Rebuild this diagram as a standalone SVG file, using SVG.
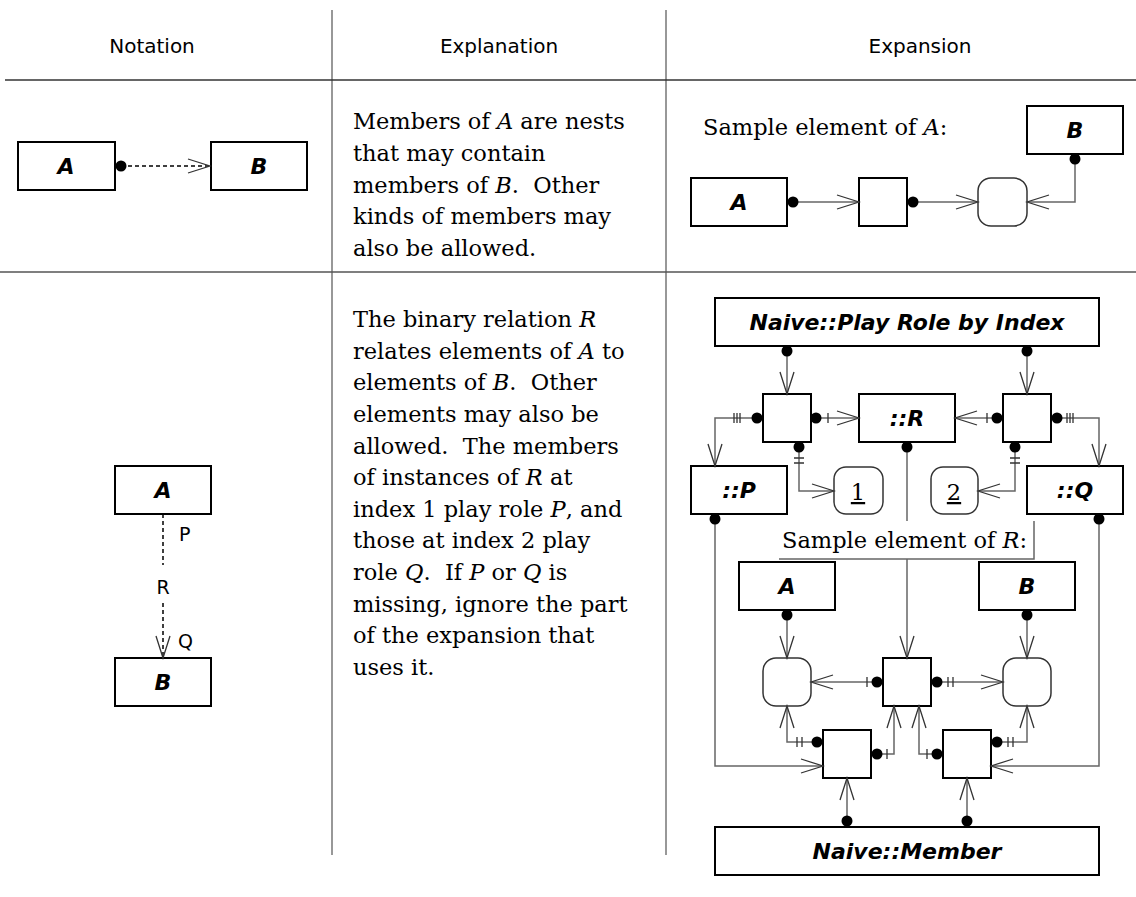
<svg xmlns="http://www.w3.org/2000/svg" width="1136" height="897" viewBox="0 0 1136 897">
<style>
.tbl{stroke:#777;stroke-width:1.5;fill:none}
.box{fill:#fff;stroke:#000;stroke-width:2}
.rbox{fill:#fff;stroke:#333;stroke-width:1.5}
.ln{stroke:#666;stroke-width:1.5;fill:none}
.dash{stroke:#000;stroke-width:1.5;fill:none;stroke-dasharray:4 3}
.bar{stroke:#333;stroke-width:1.3;fill:none}
.dot{fill:#000}
.lbl{font-family:"DejaVu Sans",sans-serif;font-weight:bold;font-style:italic;font-size:22px;text-anchor:middle;fill:#000}
.hdr{font-family:"DejaVu Sans",sans-serif;font-size:20px;text-anchor:middle;fill:#000}
.sans{font-family:"DejaVu Sans",sans-serif;font-size:19px;fill:#000}
.ser{font-family:"DejaVu Serif",serif;font-size:22.5px;fill:#000}
.it{font-style:italic}
</style>
<defs>
<marker id="v" markerUnits="userSpaceOnUse" viewBox="-24 -10 26 20" refX="0" refY="0" markerWidth="26" markerHeight="20" orient="auto">
<path d="M-22,-7 L0,0 L-22,7" fill="none" stroke="#333" stroke-width="1.3"/>
</marker>
</defs>
<rect width="1136" height="897" fill="#fff"/>
<g id="table">
<path class="tbl" d="M332,10 V855 M666,10 V855"/>
<path d="M5,80 H1136" stroke="#333" stroke-width="1.5"/>
<path d="M0,272 H1136" stroke="#555" stroke-width="1.5"/>
<text class="hdr" x="152" y="53">Notation</text>
<text class="hdr" x="499" y="53">Explanation</text>
<text class="hdr" x="920" y="53">Expansion</text>
</g>
<g id="row1-notation">
<g id="n1-A"><rect class="box" x="18" y="142" width="97" height="48"/><text class="lbl" x="66" y="174">A</text></g>
<g id="n1-B"><rect class="box" x="211" y="142" width="96" height="48"/><text class="lbl" x="259" y="174">B</text></g>
</g>
<g id="row1-explanation">
<text class="ser" xml:space="preserve"><tspan x="353" y="129">Members of <tspan class="it">A</tspan> are nests</tspan><tspan x="353" y="161">that may contain</tspan><tspan x="353" y="193">members of <tspan class="it">B</tspan>.  Other</tspan><tspan x="353" y="224">kinds of members may</tspan><tspan x="353" y="256">also be allowed.</tspan></text>
</g>
<g id="row1-expansion">
<text class="ser" x="703" y="135">Sample element of <tspan class="it">A</tspan>:</text>
<g id="e1-B"><rect class="box" x="1027" y="106" width="96" height="48"/><text class="lbl" x="1075" y="138">B</text></g>
<g id="e1-A"><rect class="box" x="691" y="178" width="96" height="48"/><text class="lbl" x="739" y="210">A</text></g>
<g id="e1-sq"><rect class="box" x="859" y="178" width="48" height="48"/></g>
<g id="e1-rb"><rect class="rbox" x="978" y="178" width="49" height="48" rx="13"/></g>
</g>
<g id="row2-notation">
<g id="n2-A"><rect class="box" x="115" y="466" width="96" height="48"/><text class="lbl" x="163" y="498">A</text></g>
<g id="n2-B"><rect class="box" x="115" y="658" width="96" height="48"/><text class="lbl" x="163" y="690">B</text></g>
<text class="sans" x="179" y="541">P</text>
<text class="sans" x="163" y="594" text-anchor="middle">R</text>
<text class="sans" x="178" y="648">Q</text>
</g>
<g id="row2-explanation">
<text class="ser" xml:space="preserve"><tspan x="353" y="327">The binary relation <tspan class="it">R</tspan></tspan><tspan x="353" y="359">relates elements of <tspan class="it">A</tspan> to</tspan><tspan x="353" y="390">elements of <tspan class="it">B</tspan>.  Other</tspan><tspan x="353" y="422">elements may also be</tspan><tspan x="353" y="454">allowed.  The members</tspan><tspan x="353" y="485">of instances of <tspan class="it">R</tspan> at</tspan><tspan x="353" y="517">index 1 play role <tspan class="it">P</tspan>, and</tspan><tspan x="353" y="548">those at index 2 play</tspan><tspan x="353" y="580">role <tspan class="it">Q</tspan>.  If <tspan class="it">P</tspan> or <tspan class="it">Q</tspan> is</tspan><tspan x="353" y="612">missing, ignore the part</tspan><tspan x="353" y="643">of the expansion that</tspan><tspan x="353" y="675">uses it.</tspan></text>
</g>
<g id="row2-expansion">
<g id="playrole"><rect class="box" x="715" y="298" width="384" height="48"/><text class="lbl" x="907" y="330">Naive::Play Role by Index</text></g>
<g id="sqL"><rect class="box" x="763" y="394" width="48" height="48"/></g>
<g id="R"><rect class="box" x="859" y="394" width="96" height="48"/><text class="lbl" x="907" y="426">::R</text></g>
<g id="sqR"><rect class="box" x="1003" y="394" width="48" height="48"/></g>
<g id="P"><rect class="box" x="691" y="466" width="96" height="48"/><text class="lbl" x="739" y="498">::P</text></g>
<g id="Q"><rect class="box" x="1027" y="466" width="96" height="48"/><text class="lbl" x="1075" y="498">::Q</text></g>
<g id="one"><rect class="rbox" x="834" y="467" width="49" height="47" rx="12"/><text class="ser" x="858" y="500" text-anchor="middle" text-decoration="underline">1</text></g>
<g id="two"><rect class="rbox" x="931" y="467" width="47" height="47" rx="12"/><text class="ser" x="954" y="500" text-anchor="middle" text-decoration="underline">2</text></g>
<g id="sample"><text class="ser" x="782" y="548">Sample element of <tspan class="it">R</tspan>:</text></g>
<g id="A2"><rect class="box" x="739" y="562" width="96" height="48"/><text class="lbl" x="787" y="594">A</text></g>
<g id="B2"><rect class="box" x="979" y="562" width="96" height="48"/><text class="lbl" x="1027" y="594">B</text></g>
<g id="rbL"><rect class="rbox" x="763" y="658" width="48" height="48" rx="13"/></g>
<g id="sqC"><rect class="box" x="883" y="658" width="48" height="48"/></g>
<g id="rbR"><rect class="rbox" x="1003" y="658" width="48" height="48" rx="13"/></g>
<g id="sqBL"><rect class="box" x="823" y="730" width="48" height="48"/></g>
<g id="sqBR"><rect class="box" x="943" y="730" width="48" height="48"/></g>
<g id="member"><rect class="box" x="715" y="827" width="384" height="48"/><text class="lbl" x="907" y="859">Naive::Member</text></g>
</g>
<g id="connectors">
<path class="dash" d="M121,166 H210" marker-end="url(#v)"/>
<path class="dash" d="M163,514 V565 M163,603 V658" marker-end="url(#v)"/>
<path class="ln" d="M793,202 H859" marker-end="url(#v)"/>
<path class="ln" d="M913,202 H978" marker-end="url(#v)"/>
<path class="ln" d="M1075,159 V202 H1027" marker-end="url(#v)"/>
<path class="ln" d="M787,351 V394" marker-end="url(#v)"/>
<path class="ln" d="M1027,351 V394" marker-end="url(#v)"/>
<path class="ln" d="M757,418 H715 V466" marker-end="url(#v)"/>
<path class="ln" d="M816,418 H859" marker-end="url(#v)"/>
<path class="ln" d="M997,418 H955" marker-end="url(#v)"/>
<path class="ln" d="M1057,418 H1099 V466" marker-end="url(#v)"/>
<path class="ln" d="M799,447 V491 H834" marker-end="url(#v)"/>
<path class="ln" d="M1015,447 V491 H978" marker-end="url(#v)"/>
<path class="ln" d="M907,447 V521"/>
<path class="ln" d="M907,559 V658" marker-end="url(#v)"/>
<path class="ln" d="M779,559 H1034 V521" stroke-width="1"/>
<path class="ln" d="M715,519 V766 H823" marker-end="url(#v)"/>
<path class="ln" d="M1099,519 V766 H991" marker-end="url(#v)"/>
<path class="ln" d="M787,615 V658" marker-end="url(#v)"/>
<path class="ln" d="M1027,615 V658" marker-end="url(#v)"/>
<path class="ln" d="M877,682 H811" marker-end="url(#v)"/>
<path class="ln" d="M937,682 H1003" marker-end="url(#v)"/>
<path class="ln" d="M817,742 H787 V706" marker-end="url(#v)"/>
<path class="ln" d="M877,754 H894 V706" marker-end="url(#v)"/>
<path class="ln" d="M937,754 H919 V706" marker-end="url(#v)"/>
<path class="ln" d="M997,742 H1027 V706" marker-end="url(#v)"/>
<path class="ln" d="M847,821 V778" marker-end="url(#v)"/>
<path class="ln" d="M967,821 V778" marker-end="url(#v)"/>
<path class="bar" d="M734,413 V423 M737,413 V423 M740,413 V423 M828,413 V423 M987,413 V423 M1067,413 V423 M1070,413 V423 M1073,413 V423 M794,458 H804 M794,463 H804 M1010,458 H1020 M1010,463 H1020 M867,677 V687 M948,677 V687 M953,677 V687 M797,737 V747 M802,737 V747 M887,749 V759 M927,749 V759 M1008,737 V747 M1013,737 V747"/>
<g class="dot">
<circle cx="121" cy="166" r="5.5"/>
<circle cx="793" cy="202" r="5.5"/><circle cx="913" cy="202" r="5.5"/><circle cx="1075" cy="159" r="5.5"/>
<circle cx="787" cy="351" r="5.5"/><circle cx="1027" cy="351" r="5.5"/>
<circle cx="757" cy="418" r="5.5"/><circle cx="816" cy="418" r="5.5"/><circle cx="997" cy="418" r="5.5"/><circle cx="1057" cy="418" r="5.5"/>
<circle cx="799" cy="447" r="5.5"/><circle cx="1015" cy="447" r="5.5"/><circle cx="907" cy="447" r="5.5"/>
<circle cx="715" cy="519" r="5.5"/><circle cx="1099" cy="519" r="5.5"/>
<circle cx="787" cy="615" r="5.5"/><circle cx="1027" cy="615" r="5.5"/>
<circle cx="877" cy="682" r="5.5"/><circle cx="937" cy="682" r="5.5"/>
<circle cx="817" cy="742" r="5.5"/><circle cx="877" cy="754" r="5.5"/><circle cx="937" cy="754" r="5.5"/><circle cx="997" cy="742" r="5.5"/>
<circle cx="847" cy="821" r="5.5"/><circle cx="967" cy="821" r="5.5"/>
</g>
</g>
</svg>
